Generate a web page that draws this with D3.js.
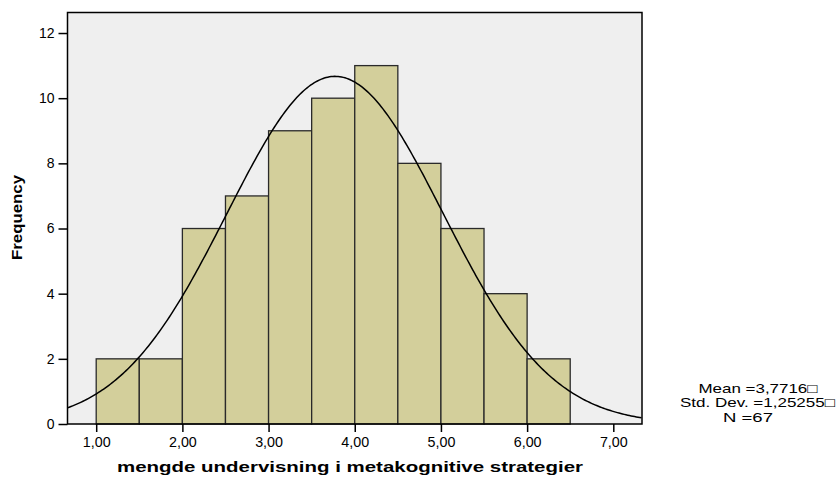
<!DOCTYPE html>
<html>
<head>
<meta charset="utf-8">
<script src="https://cdn.jsdelivr.net/npm/d3@7"></script>
<style>
  html, body { margin: 0; padding: 0; background: #fff; }
  svg { display: block; font-family: Arial, "Liberation Sans", sans-serif; }
</style>
</head>
<body>
<svg id="chart" width="836" height="477"></svg>
<script>
// Histogram bins (lower edges) and frequencies
const binStarts = [1.0, 1.5, 2.0, 2.5, 3.0, 3.5, 4.0, 4.5, 5.0, 5.5, 6.0];
const binWidth = 0.5;
const frequencies = [2, 2, 6, 7, 9, 10, 11, 8, 6, 4, 2];

// Axis ticks
const xTicks = [1, 2, 3, 4, 5, 6, 7];
const yTicks = [0, 2, 4, 6, 8, 10, 12];

// Summary statistics
const meanValue = 3.7716;
const stdDev = 1.25255;
const nTotal = 67;
const statLines = ["Mean =3,7716\u25A1", "Std. Dev. =1,25255\u25A1", "N =67"];

const svg = d3.select("#chart");
const plot = { left: 67.5, right: 642, top: 12.5, bottom: 424 };

const x = d3.scaleLinear().domain([0.667, 7.333]).range([plot.left, plot.right]);
const y = d3.scaleLinear().domain([0, 12.63]).range([plot.bottom, plot.top]);

// Plot background
svg.append("rect")
  .attr("x", plot.left).attr("y", plot.top)
  .attr("width", plot.right - plot.left).attr("height", plot.bottom - plot.top)
  .attr("fill", "#efefef");

// Bars
svg.append("g").selectAll("rect")
  .data(binStarts.map((s, i) => ({ s, f: frequencies[i] })))
  .join("rect")
  .attr("x", d => x(d.s))
  .attr("y", d => y(d.f))
  .attr("width", d => x(d.s + binWidth) - x(d.s))
  .attr("height", d => y(0) - y(d.f))
  .attr("fill", "#d3cf9b")
  .attr("stroke", "#2a2a2a")
  .attr("stroke-width", 1.3);

// Fitted normal curve scaled to counts
const scaleFactor = nTotal * binWidth / (stdDev * Math.sqrt(2 * Math.PI));
const curvePts = d3.range(0.667, 7.3331, 0.02).map(v => [v, scaleFactor * Math.exp(-0.5 * ((v - meanValue) / stdDev) ** 2)]);
svg.append("path")
  .datum(curvePts)
  .attr("fill", "none")
  .attr("stroke", "#000")
  .attr("stroke-width", 1.5)
  .attr("d", d3.line().x(d => x(d[0])).y(d => y(d[1])));

// Frame
svg.append("rect")
  .attr("x", plot.left).attr("y", plot.top)
  .attr("width", plot.right - plot.left).attr("height", plot.bottom - plot.top)
  .attr("fill", "none").attr("stroke", "#000").attr("stroke-width", 1.5);

// Axes
const xAxis = d3.axisBottom(x).tickValues(xTicks).tickSize(8).tickPadding(5)
  .tickFormat(d => d3.format(".2f")(d).replace(".", ","));
const gx = svg.append("g").attr("transform", `translate(0,${plot.bottom})`).call(xAxis);
gx.select(".domain").remove();
gx.selectAll(".tick line").attr("stroke", "#000").attr("stroke-width", 1.5);
gx.selectAll("text").attr("font-size", 14.3).attr("fill", "#000").attr("font-family", "Arial, 'Liberation Sans', sans-serif");

const yAxis = d3.axisLeft(y).tickValues(yTicks).tickSize(9).tickPadding(4);
const gy = svg.append("g").attr("transform", `translate(${plot.left},0)`).call(yAxis);
gy.select(".domain").remove();
gy.selectAll(".tick line").attr("stroke", "#000").attr("stroke-width", 1.5);
gy.selectAll("text").attr("font-size", 14).attr("fill", "#000").attr("font-family", "Arial, 'Liberation Sans', sans-serif");

// Axis titles
svg.append("text")
  .attr("x", 117).attr("y", 472)
  .attr("font-weight", "bold").attr("font-size", 15)
  .attr("textLength", 466).attr("lengthAdjust", "spacingAndGlyphs")
  .text("mengde undervisning i metakognitive strategier");

svg.append("text")
  .attr("transform", "translate(22,260) rotate(-90)")
  .attr("font-weight", "bold").attr("font-size", 14.5)
  .attr("textLength", 85).attr("lengthAdjust", "spacingAndGlyphs")
  .text("Frequency");

// Statistics box: three centred lines, slightly widened
const statX = [758, 757.5, 748];
const statW = [119, 155, 50];
svg.append("g").selectAll("text")
  .data(statLines)
  .join("text")
  .attr("x", (d, i) => statX[i] - statW[i] / 2)
  .attr("y", (d, i) => 392.5 + i * 14.5)
  .attr("font-size", 13)
  .attr("textLength", (d, i) => statW[i])
  .attr("lengthAdjust", "spacingAndGlyphs")
  .text(d => d);
</script>
</body>
</html>
